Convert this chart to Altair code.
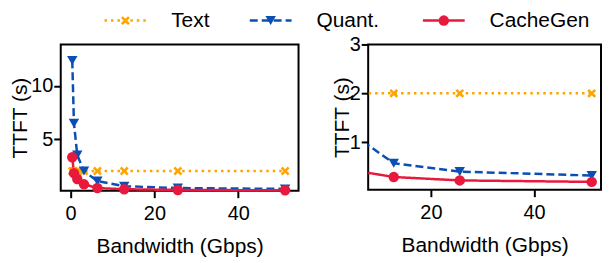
import altair as alt
import pandas as pd

names = ["Text", "Quant.", "CacheGen"]
bandwidth = [0.4, 0.8, 1.6, 3.2, 6.4, 12.8, 25.6, 51.2]
text_ttft = [2.0, 2.0, 2.0, 2.0, 2.0, 2.0, 2.0, 2.0]
quant_ttft = [12.4, 6.5, 3.5, 2.0, 1.05, 0.57, 0.40, 0.32]
cachegen_ttft = [3.3, 1.8, 1.25, 0.75, 0.40, 0.29, 0.22, 0.19]

colors = ["#FFA500", "#0B4FB5", "#E8193C"]
dashes = [[2.5, 4], [8, 4], [1, 0]]
X_PATH = ("M-0.85,-0.5L-0.5,-0.85L0,-0.35L0.5,-0.85L0.85,-0.5L0.35,0L0.85,0.5"
          "L0.5,0.85L0,0.35L-0.5,0.85L-0.85,0.5L-0.35,0Z")
shapes = [X_PATH, "triangle-down", "circle"]

rows = []
for name, vals in zip(names, [text_ttft, quant_ttft, cachegen_ttft]):
    for b, v in zip(bandwidth, vals):
        rows.append({"series": name, "bw": b, "ttft": v})
df = pd.DataFrame(rows)

color = alt.Color("series:N", scale=alt.Scale(domain=names, range=colors), legend=None)
dash = alt.StrokeDash("series:N", scale=alt.Scale(domain=names, range=dashes), legend=None)
shape = alt.Shape("series:N", scale=alt.Scale(domain=names, range=shapes), legend=None)


def panel(xdom, ydom, xticks, yticks, w, h, clip, title_pad):
    x = alt.X("bw:Q", scale=alt.Scale(domain=xdom, nice=False, zero=False),
              axis=alt.Axis(values=xticks, title="Bandwidth (Gbps)"))
    y = alt.Y("ttft:Q", scale=alt.Scale(domain=ydom, nice=False, zero=False),
              axis=alt.Axis(values=yticks, title="TTFT (s)", titlePadding=title_pad))
    base = alt.Chart(df).encode(x=x, y=y, color=color)
    lines = base.mark_line(strokeWidth=2.5, clip=clip).encode(strokeDash=dash)
    pts = base.mark_point(filled=True, size=110, opacity=1, clip=clip).encode(shape=shape)
    return alt.layer(lines, pts).properties(width=w, height=h)


left = panel([-2.35, 54.4], [0.15, 13.9], [0, 20, 40], [5, 10], 239, 147, False, 0)
right = panel([7.84, 53.0], [0.03, 3.0], [20, 40], [1, 2, 3], 234, 146, True, -3)

leg_df = pd.DataFrame({"series": names, "idx": [0, 1, 2]})
lx = alt.X("idx:Q", scale=alt.Scale(domain=[0, 1, 2], range=[65, 211, 385]), axis=None)
leg_base = alt.Chart(leg_df).encode(x=lx)
leg_rule = leg_base.mark_rule(strokeWidth=2.5, xOffset=-21, x2Offset=21).encode(
    x2=alt.X2("idx:Q"), y=alt.value(8), color=color, strokeDash=dash)
leg_pts = leg_base.mark_point(filled=True, size=110, opacity=1).encode(
    y=alt.value(8), color=color, shape=shape)
leg_txt = leg_base.mark_text(align="left", baseline="middle", dx=46, fontSize=21,
                             color="black").encode(y=alt.value(8), text="series:N")
legend = alt.layer(leg_rule, leg_pts, leg_txt).properties(
    width=500, height=16, view=alt.ViewBackground(stroke="transparent"))

panels = alt.hconcat(left, right, spacing=30)

chart = alt.vconcat(legend, panels, spacing=2).properties(
    padding={"left": 0, "top": 0, "right": 0, "bottom": 0}
).configure(font="Liberation Sans").configure_view(
    stroke="black", strokeWidth=2
).configure_axis(
    labelFontSize=20, titleFontSize=21, titleFontWeight="normal",
    labelColor="black", titleColor="black", tickColor="black", tickWidth=2,
    tickSize=7, domain=False, grid=False
).configure_axisX(
    labelPadding=6, titlePadding=12
).configure_axisY(
    labelPadding=1
)

chart.save("out.html", embed_options={"renderer": "svg", "actions": False})
